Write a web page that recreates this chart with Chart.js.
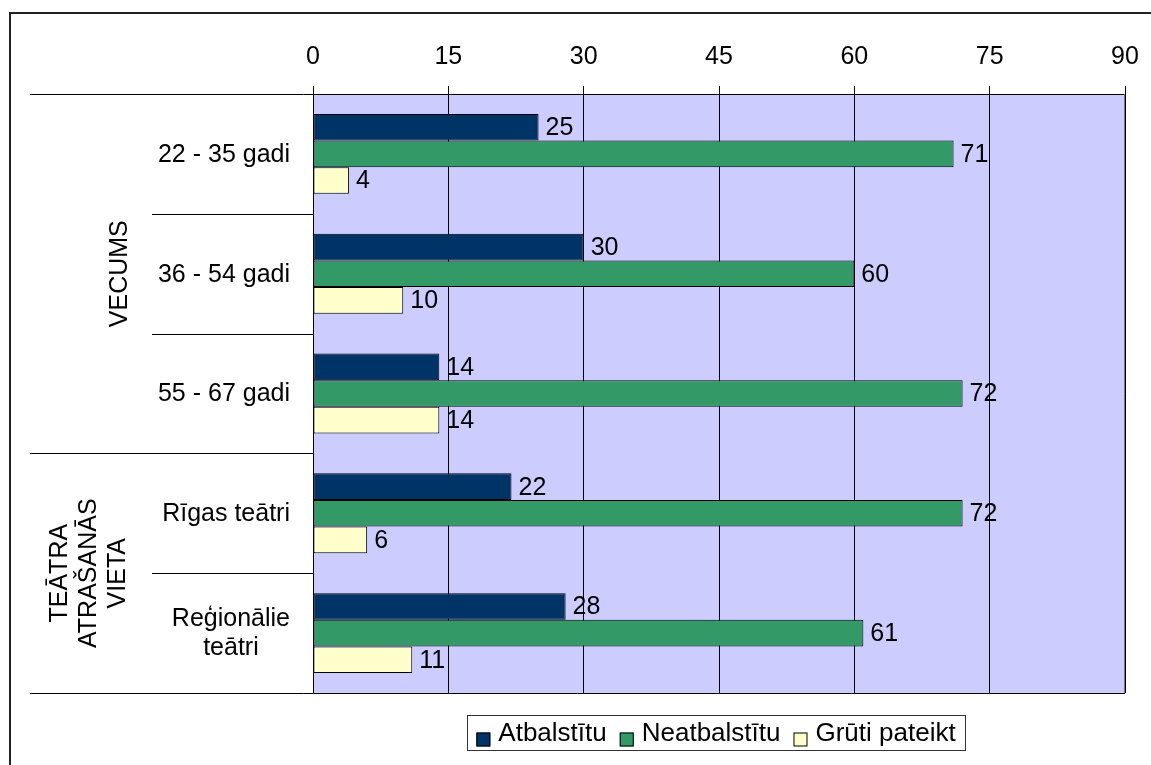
<!DOCTYPE html>
<html>
<head>
<meta charset="utf-8">
<script src="https://cdn.jsdelivr.net/npm/chart.js@4/dist/chart.umd.min.js"></script>
<style>
html,body{margin:0;padding:0;background:#fff;}
#wrap{position:relative;width:1151px;height:765px;}
</style>
</head>
<body>
<div id="wrap"><canvas id="c" width="1151" height="765"></canvas></div>
<script>
const categories = [["22 - 35 gadi"], ["36 - 54 gadi"], ["55 - 67 gadi"], ["Rīgas teātri"], ["Reģionālie", "teātri"]];
const groups = [
  { lines: ["VECUMS"], from: 0, to: 2 },
  { lines: ["TEĀTRA", "ATRAŠANĀS", "VIETA"], from: 3, to: 4 }
];
const seriesNames = ["Atbalstītu", "Neatbalstītu", "Grūti pateikt"];
const atbalstitu = [25, 30, 14, 22, 28];
const neatbalstitu = [71, 60, 72, 72, 61];
const gruti = [4, 10, 14, 6, 11];
const xTicks = [0, 15, 30, 45, 60, 75, 90];

const FONT = '"Liberation Sans", Arial, sans-serif';
const FS = 25;
const colors = ["#003366", "#339966", "#FFFFCC"];

const framePlugin = {
  id: 'frame',
  beforeDraw(chart) {
    const ctx = chart.ctx, a = chart.chartArea;
    ctx.save();
    ctx.fillStyle = '#fff';
    ctx.fillRect(0, 0, chart.width, chart.height);
    ctx.fillStyle = '#CCCCFF';
    ctx.fillRect(a.left, a.top, a.right - a.left, a.bottom - a.top);
    ctx.restore();
  },
  afterDatasetsDraw(chart) {
    const ctx = chart.ctx, a = chart.chartArea;
    ctx.save();
    // outer frame
    ctx.strokeStyle = '#222';
    ctx.lineWidth = 2;
    ctx.beginPath();
    ctx.moveTo(10, 765);
    ctx.lineTo(10, 13);
    ctx.lineTo(1151, 13);
    ctx.stroke();
    // separators
    ctx.lineWidth = 1;
    ctx.strokeStyle = '#000';
    const yScale = chart.scales.y;
    const n = categories.length;
    const step = (a.bottom - a.top) / n;
    const groupBounds = new Set();
    groups.forEach(g => { groupBounds.add(g.from); groupBounds.add(g.to + 1); });
    for (let i = 0; i <= n; i++) {
      const y = Math.round(a.top + i * step) + 0.5;
      const x0 = groupBounds.has(i) ? 30 : 152;
      ctx.beginPath();
      ctx.moveTo(x0, y);
      ctx.lineTo(groupBounds.has(i) && (i === 0 || i === n) ? a.right : a.left, y);
      ctx.stroke();
    }
    ctx.strokeStyle = '#777';
    ctx.beginPath();
    ctx.moveTo(a.right - 0.5, a.top);
    ctx.lineTo(a.right - 0.5, a.bottom);
    ctx.stroke();
    // category labels
    ctx.fillStyle = '#000';
    ctx.font = FS + 'px ' + FONT;
    ctx.textBaseline = 'middle';
    const lh = 29;
    categories.forEach((lines, i) => {
      const cy = yScale.getPixelForValue(i);
      if (lines.length === 1) {
        ctx.textAlign = 'right';
        ctx.fillText(lines[0], 290, cy + 1);
      } else {
        ctx.textAlign = 'center';
        let maxW = 0;
        lines.forEach(l => maxW = Math.max(maxW, ctx.measureText(l).width));
        const cx = 290 - maxW / 2;
        lines.forEach((l, k) => ctx.fillText(l, cx, cy + 1 + (k - (lines.length - 1) / 2) * lh));
      }
    });
    // group labels (rotated)
    groups.forEach(g => {
      const y0 = yScale.getPixelForValue(g.from) - step / 2;
      const y1 = yScale.getPixelForValue(g.to) + step / 2;
      const cy = (y0 + y1) / 2;
      const cx = g.lines.length === 1 ? 120 : 89;
      ctx.save();
      ctx.translate(cx, cy);
      ctx.rotate(-Math.PI / 2);
      ctx.textAlign = 'center';
      ctx.textBaseline = 'middle';
      g.lines.forEach((l, k) => ctx.fillText(l, 0, (k - (g.lines.length - 1) / 2) * lh));
      ctx.restore();
    });
    // data labels
    ctx.textAlign = 'left';
    ctx.textBaseline = 'middle';
    chart.data.datasets.forEach((ds, di) => {
      const meta = chart.getDatasetMeta(di);
      meta.data.forEach((bar, i) => {
        ctx.fillText(String(ds.data[i]), bar.x + 7, bar.y + 1);
      });
    });
    // legend
    const bx = 467, by = 715, bw = 498, bh = 35;
    ctx.fillStyle = '#fff';
    ctx.fillRect(bx, by, bw, bh);
    ctx.strokeStyle = '#333';
    ctx.strokeRect(bx + 0.5, by + 0.5, bw, bh);
    ctx.font = '26px ' + FONT;
    const sq = 14, gapT = 8, gapI = 13;
    let total = 0;
    seriesNames.forEach((s, k) => { total += sq + gapT + ctx.measureText(s).width + (k < seriesNames.length - 1 ? gapI : 0); });
    let x = bx + (bw - total) / 2;
    const ty = by + bh / 2 + 1;
    seriesNames.forEach((s, k) => {
      ctx.fillStyle = colors[k];
      ctx.fillRect(x, ty - 1, sq, sq);
      ctx.strokeStyle = '#000';
      ctx.strokeRect(x + 0.5, ty - 0.5, sq - 1, sq - 1);
      x += sq + gapT;
      ctx.fillStyle = '#000';
      ctx.fillText(s, x, ty);
      x += ctx.measureText(s).width + gapI;
    });
    ctx.restore();
  }
};

new Chart(document.getElementById('c'), {
  type: 'bar',
  data: {
    labels: categories.map(c => c.join(' ')),
    datasets: [
      { label: seriesNames[0], data: atbalstitu, backgroundColor: colors[0] },
      { label: seriesNames[1], data: neatbalstitu, backgroundColor: colors[1] },
      { label: seriesNames[2], data: gruti, backgroundColor: colors[2] }
    ].map(d => Object.assign(d, { borderColor: '#000', borderWidth: 1, borderSkipped: false, categoryPercentage: 0.667, barPercentage: 1 }))
  },
  options: {
    indexAxis: 'y',
    responsive: false,
    animation: false,
    devicePixelRatio: 1,
    layout: { padding: { left: 313, right: 26, top: 0, bottom: 72 } },
    plugins: { legend: { display: false }, tooltip: { enabled: false } },
    scales: {
      x: {
        position: 'top',
        min: 0, max: 90,
        afterBuildTicks(scale) { scale.ticks = xTicks.map(v => ({ value: v })); },
        afterFit(scale) { scale.height = 94; scale.paddingLeft = 0; scale.paddingRight = 0; },
        ticks: { color: '#000', font: { family: FONT, size: FS }, padding: 14, maxRotation: 0 },
        grid: { color: '#000', lineWidth: 1, tickLength: 8, drawTicks: true },
        border: { display: true, color: '#000' }
      },
      y: {
        display: false,
        grid: { display: false }
      }
    }
  },
  plugins: [framePlugin]
});
</script>
</body>
</html>
